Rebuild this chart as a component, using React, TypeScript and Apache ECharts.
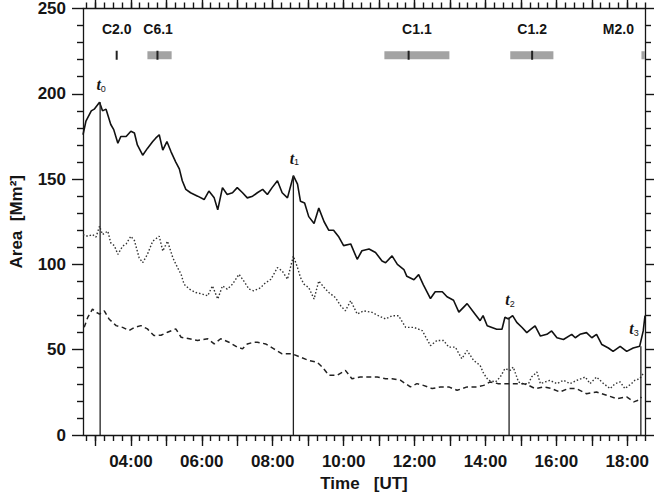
import React, { useEffect, useRef } from "react";
import * as echarts from "echarts";

// ---- axis ranges (minutes after 00:00 UT) ----
const X_MIN = 159; // 02:39 UT
const X_MAX = 1110; // 18:30 UT
const Y_MIN = 0;
const Y_MAX = 250;

// tick / label positions on the time axis (minutes)
const timeLabelValues = [240, 360, 480, 600, 720, 840, 960, 1080];
const hourTickValues = [180, 240, 300, 360, 420, 480, 540, 600, 660, 720, 780, 840, 900, 960, 1020, 1080];
const quarterTickValues: number[] = [];
for (let m = 165; m <= X_MAX; m += 15) quarterTickValues.push(m);

// ---- curves: [time (min), area (Mm^2)] ----
const solidCurve: [number, number][] = [
  [159, 176], [164, 184], [173, 190], [178, 191], [187, 195], [192, 190], [198, 191], [206, 182], [211, 179],
  [218, 171], [223, 175], [232, 175], [240, 178], [246, 177], [251, 170], [260, 164], [268, 168], [277, 172],
  [282, 174], [288, 176], [294, 167], [301, 172], [308, 166], [316, 160], [322, 156], [327, 149], [333, 144],
  [341, 142], [353, 140], [364, 138], [372, 143], [381, 139], [387, 132], [395, 145], [403, 141], [412, 142],
  [420, 145], [429, 142], [437, 139], [446, 140], [454, 142], [463, 144], [471, 141], [479, 145], [488, 149],
  [496, 142], [505, 139], [515, 152], [522, 147], [527, 137], [534, 136], [541, 128], [550, 124], [558, 133],
  [567, 125], [575, 120], [583, 120], [592, 116], [600, 111], [612, 112], [623, 103], [631, 108], [643, 109],
  [654, 107], [665, 102], [671, 101], [682, 105], [691, 100], [702, 97], [707, 93], [719, 91], [727, 94],
  [735, 88], [747, 80], [755, 84], [767, 84], [775, 81], [786, 79], [795, 72], [809, 77], [820, 72], [831, 67],
  [836, 70], [843, 64], [851, 63], [859, 62], [868, 62], [873, 69], [879, 68], [886, 70], [893, 66], [902, 63],
  [910, 60], [917, 62], [924, 64], [933, 58], [944, 59], [952, 61], [961, 57], [972, 56], [986, 59], [992, 57],
  [1000, 59], [1011, 60], [1020, 57], [1028, 59], [1037, 53], [1048, 51], [1056, 49], [1068, 52], [1079, 49],
  [1090, 51], [1101, 52], [1107, 61], [1110, 70],
];

const dottedCurve: [number, number][] = [
  [159, 117.5], [167, 116.5], [175, 117.5], [181, 116], [187, 122.4], [192, 117.5], [201, 119.5], [206, 112.6],
  [212, 111], [218, 105.9], [226, 110.7], [232, 112], [240, 116.5], [246, 114], [254, 103.9], [260, 101],
  [268, 105.9], [277, 113.6], [288, 116.5], [294, 107.8], [302, 113.6], [311, 103.9], [319, 98.1], [325, 94.2],
  [330, 88.4], [339, 85.5], [350, 83.5], [361, 82.6], [370, 81.6], [378, 87.4], [387, 79.7], [395, 87.4],
  [403, 85.5], [412, 88.4], [423, 94.2], [431, 90.3], [440, 85.5], [448, 84.5], [460, 86.4], [465, 88.4],
  [477, 91.3], [488, 98.1], [496, 96.2], [505, 91.3], [515, 104.9], [522, 98.1], [527, 92.3], [533, 88.4],
  [541, 86.4], [550, 79.7], [558, 90.3], [567, 86.4], [575, 83.5], [586, 80.6], [595, 75.8], [603, 72.8],
  [612, 78.7], [623, 70.9], [634, 72.8], [648, 71.9], [659, 69.9], [671, 68], [682, 69.9], [693, 69.9],
  [705, 63.1], [719, 63.1], [733, 61.2], [747, 52.4], [758, 55.4], [769, 55.4], [778, 51.5], [789, 51.5],
  [800, 44.7], [809, 49.5], [820, 43.7], [831, 40.8], [837, 36], [845, 32.1], [857, 31.1], [865, 34],
  [873, 38.9], [882, 37.9], [887, 39.8], [896, 31.1], [904, 30], [913, 30.1], [918, 34], [927, 36.9],
  [933, 30.1], [941, 31.1], [949, 32], [961, 30.1], [972, 32.1], [983, 30.1], [995, 32.1], [1009, 34],
  [1017, 30.1], [1028, 34], [1040, 30.1], [1051, 27.2], [1059, 30], [1068, 31.1], [1076, 27.2], [1087, 30.1],
  [1093, 32.1], [1101, 33], [1107, 36],
];

const dashedCurve: [number, number][] = [
  [161, 63.1], [167, 68.9], [175, 73.8], [181, 72], [187, 70.9], [195, 72.8], [203, 68], [215, 64.1],
  [226, 63.1], [237, 61.2], [246, 63], [257, 64.1], [268, 62.2], [279, 58.3], [291, 58.5], [302, 60.2],
  [316, 62.2], [325, 57.3], [339, 56.4], [353, 55.4], [370, 56.4], [381, 53.4], [392, 56.4], [406, 54.4],
  [420, 51.5], [429, 50.5], [437, 53.4], [448, 54.4], [454, 54.4], [468, 53.4], [482, 50.5], [496, 47.6],
  [513, 47.6], [527, 45.6], [541, 43.7], [555, 42.7], [564, 39.8], [575, 35], [589, 35], [603, 37.9],
  [614, 33], [628, 34], [642, 34], [657, 34], [671, 33], [682, 33], [696, 32.1], [713, 28.2], [724, 30.1],
  [735, 29.1], [750, 27.2], [764, 28.2], [778, 28.2], [792, 26.2], [809, 28.2], [826, 28.2], [837, 29.1],
  [848, 31.1], [862, 30.1], [876, 30.1], [890, 30.1], [904, 30.1], [913, 29.1], [924, 27.2], [938, 28.2],
  [952, 27.2], [966, 25.2], [980, 27.2], [994, 27.2], [1011, 24.2], [1028, 25.2], [1045, 23.3], [1062, 21.3],
  [1079, 22.3], [1091, 19.4], [1099, 20.4], [1104, 22.3],
];

// ---- event markers t0..t3 ----
const eventTimes = [188, 515, 880, 1103];
const eventAreas = [195, 152, 69, 52];

// ---- GOES flares ----
const flareNames = ["C2.0", "C6.1", "C1.1", "C1.2", "M2.0"];
const flareStart = [215, 268, 669, 882, 1104];
const flareEnd = [217, 309, 779, 955, 1130];
const flarePeak = [216, 285, 710, 919, NaN];
const flareLabelTime = [216, 286, 724, 919, 1065];
const FLARE_BAR_LEVEL = 222.6;
const FLARE_LABEL_LEVEL = 238;

const fmtTime = (v: number) => {
  const h = Math.floor(v / 60);
  const m = Math.round(v % 60);
  return `${String(h).padStart(2, "0")}:${String(m).padStart(2, "0")}`;
};

const FONT = "'Liberation Sans', Arial, Helvetica, sans-serif";
const INK = "#151515";

export default function App() {
  const ref = useRef<HTMLDivElement>(null);

  useEffect(() => {
    document.body.style.margin = "0";
    if (!ref.current) return;
    const chart = echarts.init(ref.current, undefined, { renderer: "svg" });

    const axisLine = { show: true, onZero: false, lineStyle: { color: INK, width: 1.3 } };
    const noLine = { show: false, onZero: false };
    const tickStyle = { color: INK, width: 1.4 };

    const option: any = {
      animation: false,
      backgroundColor: "#ffffff",
      grid: { left: 82, right: 9, top: 6, bottom: 62, containLabel: false },
      xAxis: [
        {
          type: "value", position: "bottom", min: X_MIN, max: X_MAX,
          axisLine,
          axisTick: { show: true, customValues: hourTickValues, length: 11, lineStyle: tickStyle },
          axisLabel: {
            customValues: timeLabelValues, formatter: (v: number) => fmtTime(v), margin: 18,
            fontSize: 17, fontWeight: "bold", color: INK, fontFamily: FONT,
          },
          splitLine: { show: false },
          name: "Time   [UT]", nameLocation: "middle", nameGap: 37,
          nameTextStyle: { fontSize: 17, fontWeight: "bold", color: INK, fontFamily: FONT },
        },
        {
          type: "value", position: "bottom", min: X_MIN, max: X_MAX,
          axisLine: noLine,
          axisTick: { show: true, customValues: quarterTickValues, length: 6, lineStyle: tickStyle },
          axisLabel: { show: false }, splitLine: { show: false },
        },
        {
          type: "value", position: "top", min: X_MIN, max: X_MAX,
          axisLine,
          axisTick: { show: true, customValues: hourTickValues, length: 11, lineStyle: tickStyle },
          axisLabel: { show: false }, splitLine: { show: false },
        },
        {
          type: "value", position: "top", min: X_MIN, max: X_MAX,
          axisLine: noLine,
          axisTick: { show: true, customValues: quarterTickValues, length: 6, lineStyle: tickStyle },
          axisLabel: { show: false }, splitLine: { show: false },
        },
      ],
      yAxis: [
        {
          type: "value", position: "left", min: Y_MIN, max: Y_MAX, interval: 50,
          axisLine,
          axisTick: { show: true, length: 11, lineStyle: tickStyle },
          minorTick: { show: true, splitNumber: 5, length: 6, lineStyle: tickStyle },
          axisLabel: { margin: 17, fontSize: 17, fontWeight: "bold", color: INK, fontFamily: FONT },
          splitLine: { show: false }, minorSplitLine: { show: false },
          name: "Area  [Mm²]", nameLocation: "middle", nameGap: 58, nameRotate: 90,
          nameTextStyle: { fontSize: 17, fontWeight: "bold", color: INK, fontFamily: FONT },
        },
        {
          type: "value", position: "right", min: Y_MIN, max: Y_MAX, interval: 50,
          axisLine,
          axisTick: { show: true, length: 11, lineStyle: tickStyle },
          minorTick: { show: true, splitNumber: 5, length: 6, lineStyle: tickStyle },
          axisLabel: { show: false },
          splitLine: { show: false }, minorSplitLine: { show: false },
        },
      ],
      series: [
        {
          name: "solid", type: "line", data: solidCurve, showSymbol: false, symbol: "none",
          lineStyle: { color: "#111", width: 1.6, type: "solid" }, z: 4,
        },
        {
          name: "dotted", type: "line", data: dottedCurve, showSymbol: false, symbol: "none",
          lineStyle: { color: "#333", width: 1.4, type: [1.5, 2] }, z: 3,
        },
        {
          name: "dashed", type: "line", data: dashedCurve, showSymbol: false, symbol: "none",
          lineStyle: { color: "#222", width: 1.5, type: [5, 3.5] }, z: 3,
        },
        {
          name: "events", type: "custom", z: 5,
          data: eventTimes.map((t, i) => [t, eventAreas[i]]),
          renderItem: (params: any, api: any) => {
            const t = api.value(0);
            const a = api.value(1);
            const top = api.coord([t, a]);
            const bot = api.coord([t, 0]);
            const cs = params.coordSys;
            const lx = Math.min(top[0] + 1, cs.x + cs.width - 11);
            return {
              type: "group",
              children: [
                {
                  type: "line",
                  shape: { x1: top[0], y1: top[1], x2: bot[0], y2: bot[1] },
                  style: { stroke: "#222", lineWidth: 1.3 },
                },
                {
                  type: "text", x: lx, y: top[1] - 9,
                  style: {
                    text: `{t|t}{s|${params.dataIndex}}`,
                    align: "center", verticalAlign: "bottom",
                    rich: {
                      t: { fontSize: 16, fontStyle: "italic", fontWeight: "bold", fontFamily: "'Liberation Serif', serif", fill: INK, lineHeight: 17 },
                      s: { fontSize: 9, fontFamily: "'Liberation Sans', sans-serif", fill: INK, lineHeight: 9, verticalAlign: "bottom" },
                    },
                  },
                },
              ],
            };
          },
        },
        {
          name: "flares", type: "custom", z: 5,
          data: flareNames.map((n, i) => [flareStart[i], flareEnd[i], flarePeak[i], flareLabelTime[i]]),
          renderItem: (params: any, api: any) => {
            const cs = params.coordSys;
            const right = cs.x + cs.width;
            const s = api.coord([api.value(0), FLARE_BAR_LEVEL]);
            const e = api.coord([api.value(1), FLARE_BAR_LEVEL]);
            const pv = api.value(2);
            const lab = api.coord([api.value(3), FLARE_LABEL_LEVEL]);
            const x0 = s[0];
            const x1 = Math.min(e[0], right);
            const children: any[] = [];
            if (x1 - x0 > 3) {
              children.push({
                type: "rect",
                shape: { x: x0, y: s[1] - 4, width: x1 - x0, height: 8 },
                style: { fill: "#a3a3a3" },
              });
            }
            if (pv != null && !isNaN(pv)) {
              const p = api.coord([pv, FLARE_BAR_LEVEL]);
              children.push({
                type: "rect",
                shape: { x: p[0] - 1, y: s[1] - 4.5, width: 2, height: 9 },
                style: { fill: "#222" },
              });
            }
            children.push({
              type: "text", x: lab[0], y: lab[1],
              style: {
                text: flareNames[params.dataIndex], align: "center", verticalAlign: "middle",
                fontSize: 14, fontWeight: "bold", fontFamily: FONT, fill: INK,
              },
            });
            return { type: "group", children };
          },
        },
      ],
    };

    chart.setOption(option);
    return () => chart.dispose();
  }, []);

  return <div ref={ref} style={{ width: 654, height: 497 }} />;
}
